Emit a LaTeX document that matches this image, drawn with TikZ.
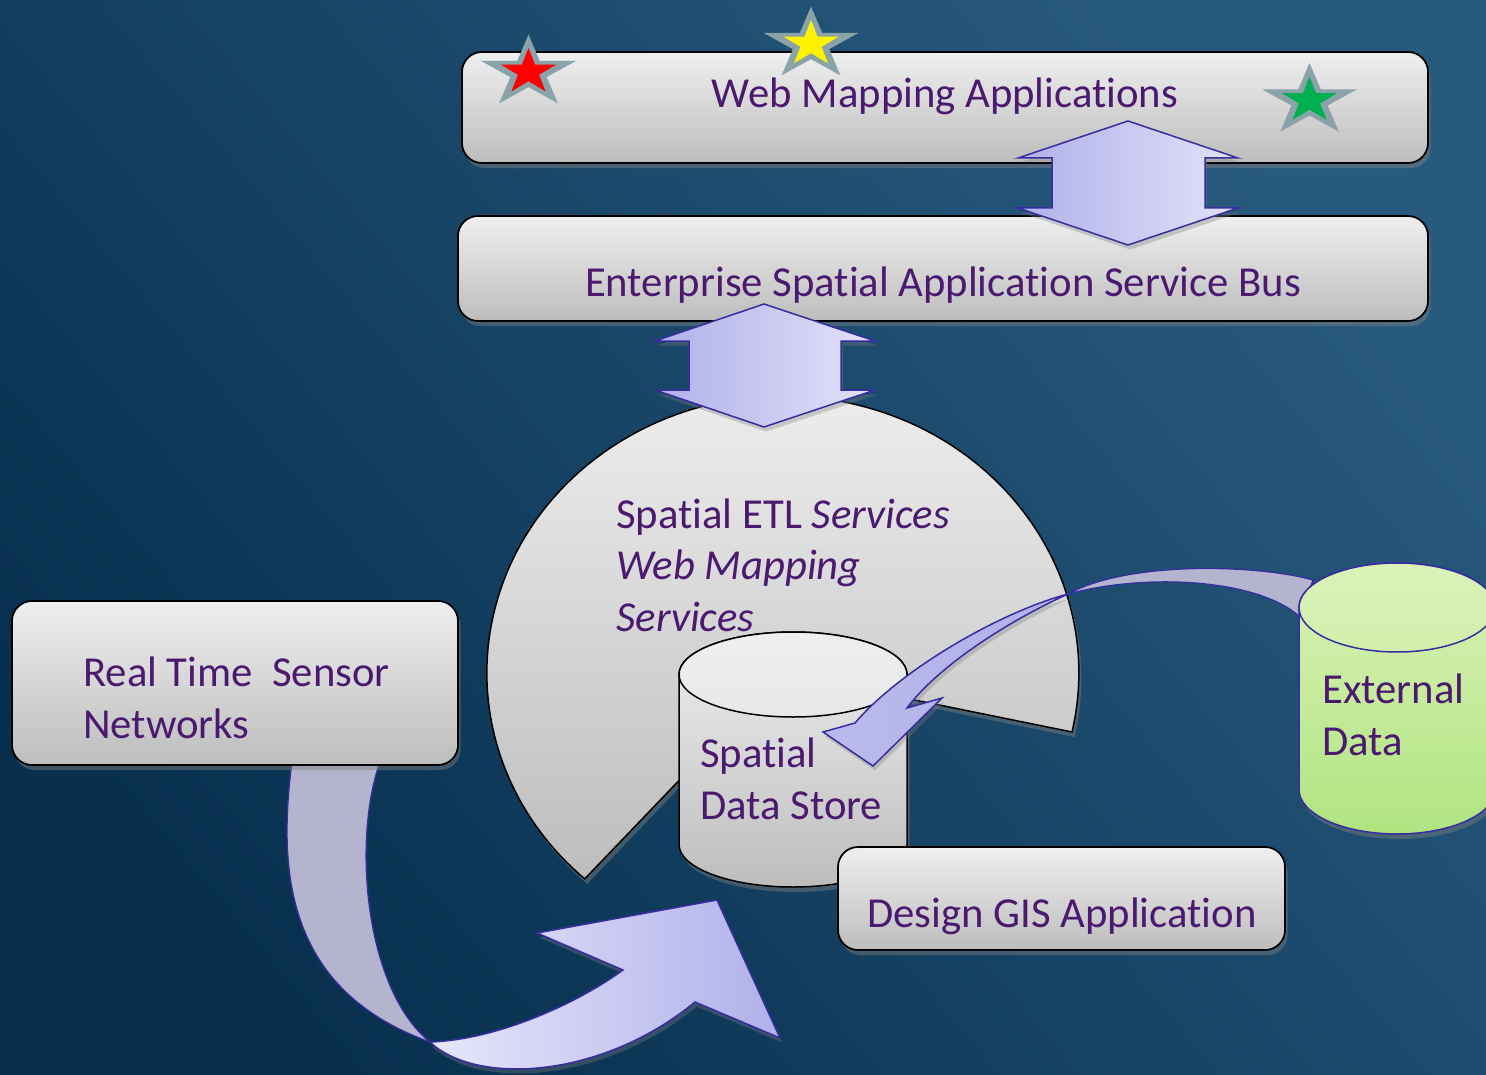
\documentclass[tikz,border=0pt]{standalone}
\usepackage{fontspec}
\setmainfont{Carlito}[Ligatures=NoCommon]
\usepackage{tikz}
\usetikzlibrary{shapes.geometric,shadows}

\definecolor{bgtop}{RGB}{40,90,126}
\definecolor{bgbot}{RGB}{8,47,78}
\definecolor{txtpurple}{RGB}{75,25,112}
\definecolor{boxtop}{RGB}{239,239,239}
\definecolor{boxbot}{RGB}{189,189,189}
\definecolor{arrowline}{RGB}{55,45,160}
\definecolor{arrowleft}{RGB}{176,176,234}
\definecolor{arrowright}{RGB}{226,226,250}
\definecolor{ribbonback}{RGB}{180,180,206}
\definecolor{stargrey}{RGB}{137,163,168}
\definecolor{stargreen}{RGB}{0,176,80}
\definecolor{cyltop}{RGB}{218,242,184}
\definecolor{cylbot}{RGB}{176,228,128}

\tikzset{
  panel/.style={rectangle, rounded corners=4mm, draw=black, line width=0.35mm,
    top color=boxtop, bottom color=boxbot, inner sep=0pt,
    drop shadow={opacity=0.45, shadow xshift=0.5mm, shadow yshift=-1mm}},
  lbl/.style={text=txtpurple, font=\fontsize{24.3}{29.2}\selectfont, inner sep=0pt},
  fatarrow/.style={draw=arrowline, line width=0.3mm, left color=arrowleft, right color=arrowright,
    drop shadow={opacity=0.35, shadow xshift=0.4mm, shadow yshift=-0.9mm}},
  ribbonback/.style={fill=ribbonback, draw=arrowline, line width=0.25mm},
  ribbonfront/.style={draw=arrowline, line width=0.3mm, left color=#1, right color=arrowleft,
    drop shadow={opacity=0.35, shadow xshift=0.4mm, shadow yshift=-0.9mm}},
  greybody/.style={draw=black, line width=0.3mm, top color=boxtop, bottom color=boxbot,
    drop shadow={opacity=0.45, shadow xshift=0.5mm, shadow yshift=-1mm}},
  greenbody/.style={draw=arrowline, line width=0.3mm, top color=cyltop, bottom color=cylbot,
    drop shadow={opacity=0.45, shadow xshift=0.5mm, shadow yshift=-1mm}},
  starrim/.style={star, star points=5, star point ratio=2.618, fill=stargrey, inner sep=0pt,
    minimum size=15.2mm, xscale=1.316, transform shape},
  starcore/.style={star, star points=5, star point ratio=2.618, fill=#1, inner sep=0pt,
    minimum size=9.6mm, xscale=1.21, transform shape}
}

\begin{document}
\begin{tikzpicture}[x=0.2mm,y=-0.2mm]
\useasboundingbox (0,0) rectangle (1486,1074);
\clip (0,0) rectangle (1486,1074);
\shade[top color=bgtop, bottom color=bgbot, shading angle=-50] (0,0) rectangle (1486,1074);

% top layer
\node[panel, minimum width=193.2mm, minimum height=22.2mm] (web) at (945,107.5) {};
\node[starrim] (rstarrim) at (528.5,72.6) {};
\node[starcore=red] (rstar) at (528.5,72) {};
\node[starrim] (ystarrim) at (811,44.6) {};
\node[starcore=yellow] (ystar) at (811,44) {};
\node[starrim] (gstarrim) at (1309.5,101) {};
\node[starcore=stargreen] (gstar) at (1309.5,100.5) {};
\node[panel, minimum width=194mm, minimum height=21mm] (esb) at (943,268.5) {};
\shade[fatarrow] (1128,121) -- (1238,158) -- (1205,158) -- (1205,208) -- (1238,208) -- (1128,245)
  -- (1018,208) -- (1052,208) -- (1052,158) -- (1018,158) -- cycle;

% sensors
\fill[ribbonback] (292,762) .. controls (278,870) and (285,990) .. (430,1042)
  .. controls (365,990) and (352,840) .. (380,762) -- cycle;
\shade[ribbonfront=arrowright!85!white] (430,1042) .. controls (475,1085) and (600,1080) .. (695,1002) -- (780,1038)
  -- (717,900) -- (537,933) -- (623,970) .. controls (575,1005) and (495,1040) .. (430,1042) -- cycle;
\node[panel, minimum width=89.2mm, minimum height=32.8mm] (sensor) at (235,683) {};

% services
\coordinate (piecentre) at (782,673);
\shade[greybody] (piecentre) -- (1072,732) arc[start angle=12.3, end angle=-228, x radius=296, y radius=277] -- cycle;
\shade[fatarrow] (764,304) -- (875,341) -- (841,341) -- (841,390) -- (875,390) -- (764,427)
  -- (655,390) -- (689,390) -- (689,341) -- (655,341) -- cycle;

% data store
\shade[greybody] (679,674.5) -- (679,844.5) arc[start angle=180, end angle=0, x radius=114, y radius=42.5]
  -- (907,674.5) arc[start angle=0, end angle=-180, x radius=114, y radius=42.5] -- cycle;
\shade[draw=black, line width=0.3mm, top color=boxtop, bottom color=boxtop!85!boxbot] (793,674.5) ellipse[x radius=114, y radius=42.5];

% external data
\fill[ribbonback] (1313,580) .. controls (1260,565) and (1130,560) .. (1068,594)
  .. controls (1150,572) and (1260,580) .. (1300,617) -- cycle;
\shade[ribbonfront=arrowleft!80!arrowright] (1068,594) .. controls (1000,612) and (900,670) .. (855,723) -- (823,732)
  -- (873,766) -- (942,698) -- (907,708) .. controls (935,670) and (1000,625) .. (1068,594) -- cycle;
\shade[greenbody] (1299,607.5) -- (1299,789.5) arc[start angle=180, end angle=0, x radius=98, y radius=44.5]
  -- (1495,607.5) arc[start angle=0, end angle=-180, x radius=98, y radius=44.5] -- cycle;
\shade[draw=arrowline, line width=0.3mm, top color=cyltop, bottom color=cyltop!80!cylbot] (1397,607.5) ellipse[x radius=98, y radius=44.5];

\node[panel, minimum width=89.4mm, minimum height=20.6mm] (design) at (1061.5,898.5) {};

% labels
\node[lbl, anchor=base] (webtxt) at (945,108) {Web Mapping Applications};
\node[lbl, anchor=base] (esbtxt) at (943,296) {Enterprise Spatial Application Service Bus};
\node[lbl, anchor=base west, align=left] (sensortxt) at (83,738) {Real Time\ \ Sensor\\Networks};
\node[lbl, anchor=base west, align=left] (etltxt) at (616,631) {Spatial ETL \textit{Services}\\\textit{Web Mapping}\\\textit{Services}};
\node[lbl, anchor=base west, align=left] (sdstxt) at (700,819) {Spatial\\Data Store};
\node[lbl, anchor=base west, align=left] (exttxt) at (1322,755) {External\\Data};
\node[lbl, anchor=base] (designtxt) at (1062,927) {Design GIS Application};
\end{tikzpicture}
\end{document}
